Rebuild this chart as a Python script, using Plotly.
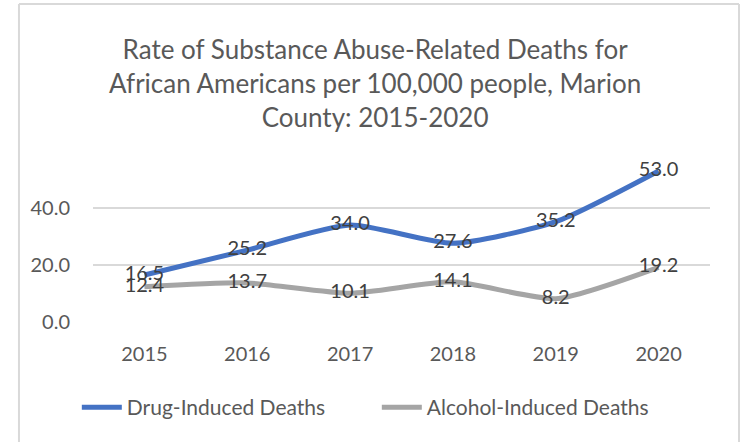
import plotly.graph_objects as go

years = ["2015", "2016", "2017", "2018", "2019", "2020"]
drug_deaths = [16.5, 25.2, 34.0, 27.6, 35.2, 53.0]
alcohol_deaths = [12.4, 13.7, 10.1, 14.1, 8.2, 19.2]
y_ticks = [0, 20, 40]
y_tick_text = ["0.0", "20.0", "40.0"]

FONT = "Lato, 'Open Sans', sans-serif"
TEXT = "#595959"

fig = go.Figure()
fig.add_trace(go.Scatter(
    x=years, y=drug_deaths, name="Drug-Induced Deaths",
    mode="lines+text", line=dict(color="#4472C4", width=5, shape="spline", smoothing=0.6),
    text=[f"{v:.1f}" for v in drug_deaths], textposition="middle center",
    textfont=dict(family=FONT, size=20, color="#404040"),
))
fig.add_trace(go.Scatter(
    x=years, y=alcohol_deaths, name="Alcohol-Induced Deaths",
    mode="lines+text", line=dict(color="#A5A5A5", width=5, shape="spline", smoothing=0.6),
    text=[f"{v:.1f}" for v in alcohol_deaths], textposition="middle center",
    textfont=dict(family=FONT, size=20, color="#404040"),
))

fig.update_layout(
    width=745, height=442,
    paper_bgcolor="white", plot_bgcolor="white",
    margin=dict(l=93, r=35, t=151, b=120),
    xaxis=dict(
        type="category", range=[-0.5, 5.5], showgrid=False, showline=False,
        ticks="", tickfont=dict(family=FONT, size=20, color=TEXT), ticklabelstandoff=18,
    ),
    yaxis=dict(
        range=[0, 60], tickvals=y_ticks, ticktext=y_tick_text,
        showgrid=True, gridcolor="#D9D9D9", gridwidth=1.5, zeroline=False,
        tickfont=dict(family=FONT, size=20, color=TEXT), ticklabelstandoff=22,
    ),
    legend=dict(
        orientation="h", x=0.46, xanchor="center", y=-0.5, yanchor="middle",
        font=dict(family=FONT, size=21, color=TEXT), itemwidth=40,
        entrywidth=245, entrywidthmode="pixels",
    ),
    showlegend=True,
    annotations=[dict(
        text="Rate of Substance Abuse-Related Deaths for<br>African Americans per 100,000 people, Marion<br>County: 2015-2020",
        xref="paper", yref="paper", x=0.457, y=1.395, xanchor="center", yanchor="middle",
        showarrow=False, align="center",
        font=dict(family=FONT, size=26, color=TEXT),
    )],
    shapes=[
        dict(type="line", xref="paper", yref="paper", x0=-0.12, x1=-0.12, y0=-1, y1=1.86,
             line=dict(color="#D9D9D9", width=2)),
        dict(type="line", xref="paper", yref="paper", x0=1.047, x1=1.047, y0=-1, y1=1.86,
             line=dict(color="#D9D9D9", width=2)),
        dict(type="line", xref="paper", yref="paper", x0=-0.12, x1=1.047, y0=1.86, y1=1.86,
             line=dict(color="#D9D9D9", width=2)),
    ],
)

fig.write_html("out.html")
